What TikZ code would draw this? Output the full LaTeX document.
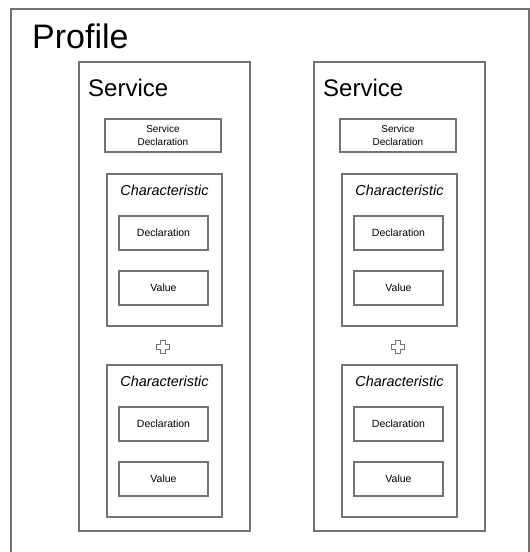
\documentclass[tikz,border=0pt]{standalone}
\usepackage{fontspec}
\setmainfont{Liberation Sans}
\begin{document}
\begin{tikzpicture}[x=1pt,y=-1pt,
  box/.style={draw=black!55,line width=1.3pt,anchor=north west,inner sep=0pt,outer sep=0pt},
  lbl/.style={anchor=base west,inner sep=0pt,text=black},
  ctext/.style={inner sep=0pt,text=black,align=center,font=\fontsize{10.5}{12.5}\selectfont}]
\useasboundingbox (0,0) rectangle (530,552);
\clip (0,0) rectangle (530,552);
\node[box,minimum width=518pt,minimum height=560pt] (profile) at (11,9) {};
\node[lbl,font=\fontsize{34}{38}\selectfont] (profilelbl) at (32,48) {Profile};
\foreach \i/\dx in {1/0,2/235}{
  \node[box,minimum width=171pt,minimum height=469pt] (svc\i) at (79+\dx,62) {};
  \node[lbl,font=\fontsize{24}{28}\selectfont] (svclbl\i) at (88+\dx,96) {Service};
  \node[box,minimum width=116pt,minimum height=33pt,
        font=\fontsize{10}{13}\selectfont,align=center,text=black] (sd\i) at (105+\dx,119) {Service\\Declaration};
  \foreach \j/\dy in {a/0,b/191}{
    \node[box,minimum width=115pt,minimum height=152pt] (ch\i\j) at (107+\dx,174+\dy) {};
    \node[anchor=base,inner sep=0pt,font=\fontsize{14.4}{16}\selectfont\itshape] (chl\i\j) at (164.5+\dx,195+\dy) {Characteristic};
    \node[box,minimum width=89pt,minimum height=34pt] (dec\i\j) at (119+\dx,216+\dy) {};
    \node[ctext] at (dec\i\j.center) {Declaration};
    \node[box,minimum width=89pt,minimum height=34pt] (val\i\j) at (119+\dx,271+\dy) {};
    \node[ctext] at (val\i\j.center) {Value};
  }
  \coordinate (plus\i) at (163+\dx,347);
  \draw[black!55,line width=0.9pt] (plus\i) ++(-2.3,-6.3) -- ++(4.6,0) -- ++(0,4) -- ++(4,0) -- ++(0,4.6) -- ++(-4,0) -- ++(0,4) -- ++(-4.6,0) -- ++(0,-4) -- ++(-4,0) -- ++(0,-4.6) -- ++(4,0) -- cycle;
}
\end{tikzpicture}
\end{document}
